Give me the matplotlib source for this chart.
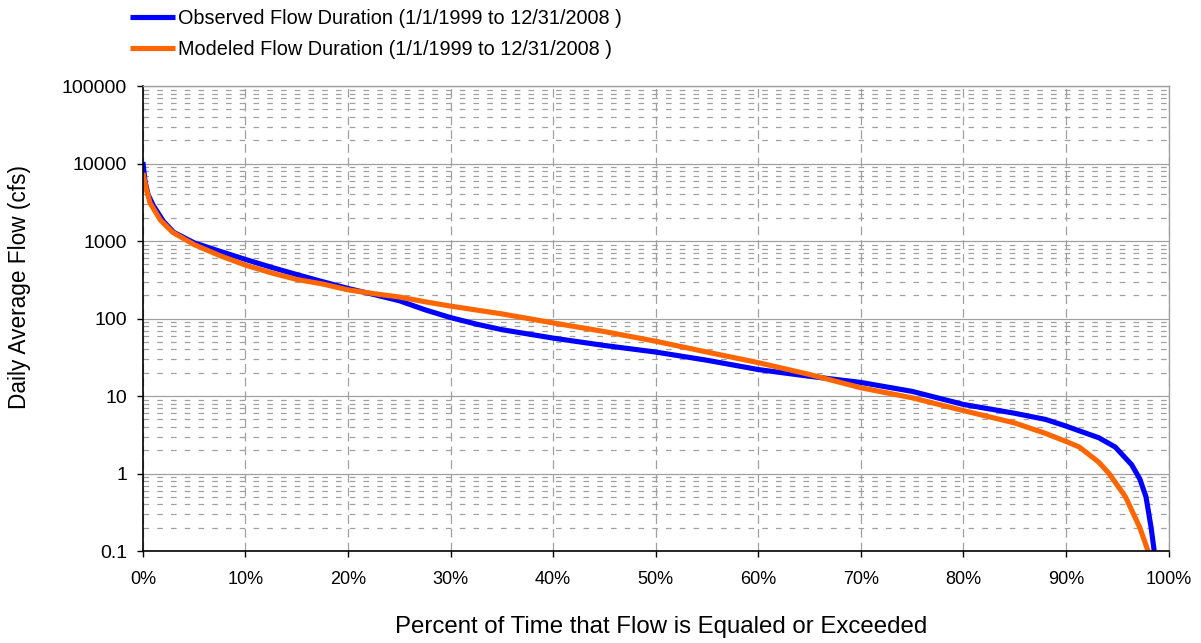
import matplotlib
matplotlib.use("Agg")
import matplotlib.pyplot as plt
from matplotlib.ticker import FixedLocator, LogLocator, NullFormatter, FuncFormatter

plt.rcParams['font.family'] = ['Liberation Sans', 'DejaVu Sans']

# percent of time exceeded / flow (cfs)
pct_obs = [0, 0.2, 0.5, 1, 2, 3, 5, 7.5, 10, 12.5, 15, 17.5, 20, 22.5, 25, 27.5, 30, 32.5, 35,
           40, 45, 50, 55, 60, 65, 70, 75, 80, 85, 88, 90, 92, 93.2, 94.8, 96.4, 97.2, 97.8,
           98.3, 98.6]
obs = [10500, 6000, 4000, 2900, 1800, 1300, 950, 740, 580, 460, 370, 300, 245, 205, 170, 130,
       103, 85, 72, 56, 45, 37, 29, 22, 18, 15, 11.5, 7.8, 6.0, 5.0, 4.1, 3.3, 2.9, 2.2, 1.3,
       0.85, 0.5, 0.2, 0.1]

pct_mod = [0, 0.35, 0.7, 1.7, 2.9, 5, 7.5, 10, 12.5, 15, 17.5, 20, 22.5, 25, 27.5, 30, 35, 40,
           45, 50, 55, 60, 65, 70, 75, 80, 85, 88, 90, 91.3, 93.2, 94.2, 95.8, 97.2, 98]
mod = [7600, 4600, 3100, 1870, 1300, 900, 650, 490, 390, 320, 280, 235, 210, 190, 165, 145, 115,
       88, 68, 51, 37, 27, 19, 12.8, 9.5, 6.5, 4.5, 3.3, 2.6, 2.2, 1.4, 1.0, 0.5, 0.2, 0.1]

x_ticks = [0, 10, 20, 30, 40, 50, 60, 70, 80, 90, 100]
y_ticks = [0.1, 1, 10, 100, 1000, 10000, 100000]
y_labels = ["0.1", "1", "10", "100", "1000", "10000", "100000"]

fig = plt.figure(figsize=(12.01, 6.43), dpi=100)
ax = fig.add_axes([0.119, 0.143, 0.854, 0.723])

l1, = ax.plot(pct_obs, obs, color="#0000ff", lw=3.7, solid_capstyle="butt")
l2, = ax.plot(pct_mod, mod, color="#ff6600", lw=3.7, solid_capstyle="butt")

ax.set_yscale("log")
ax.set_xlim(0, 100)
ax.set_ylim(0.1, 100000)

ax.yaxis.set_major_locator(FixedLocator(y_ticks))
ax.yaxis.set_major_formatter(FuncFormatter(lambda v, p: y_labels[y_ticks.index(v)] if v in y_ticks else ""))
ax.yaxis.set_minor_locator(LogLocator(base=10, subs=range(2, 10)))
ax.yaxis.set_minor_formatter(NullFormatter())
ax.xaxis.set_major_locator(FixedLocator(x_ticks))
ax.xaxis.set_major_formatter(FuncFormatter(lambda v, p: f"{int(v)}%"))

ax.grid(True, which="major", axis="y", color="#a0a0a0", lw=0.9, ls="-")
ax.grid(True, which="minor", axis="y", color="#a0a0a0", lw=0.9, ls=(0, (4.5, 6.5)))
ax.grid(True, which="major", axis="x", color="#a0a0a0", lw=0.9, ls=(0, (7, 4)))
ax.set_axisbelow(True)

for s in ["top", "right"]:
    ax.spines[s].set_color("#a0a0a0")
    ax.spines[s].set_linewidth(1)
for s in ["left", "bottom"]:
    ax.spines[s].set_color("black")
    ax.spines[s].set_linewidth(1.2)

ax.tick_params(axis="both", which="major", direction="out", length=4.5, width=1)
ax.tick_params(axis="y", which="major", labelsize=14, pad=7)
ax.tick_params(axis="x", which="major", labelsize=13, pad=10)
ax.tick_params(axis="y", which="minor", length=0)

fig.text(20 / 1201, 1 - 287 / 643, "Daily Average Flow (cfs)", fontsize=16.3,
         rotation=90, ha="center", va="center")
fig.text(661 / 1201, 1 - 627 / 643, "Percent of Time that Flow is Equaled or Exceeded",
         fontsize=17.3, ha="center", va="center")

fig.legend([l1, l2],
           ["Observed Flow Duration (1/1/1999 to 12/31/2008 )",
            "Modeled Flow Duration (1/1/1999 to 12/31/2008 )"],
           loc="upper left", bbox_to_anchor=(0.098, 1.005), frameon=False, fontsize=14.3,
           handlelength=2.3, handletextpad=0.15, labelspacing=0.6, borderaxespad=0.2)

fig.savefig("out.png", dpi=100)
